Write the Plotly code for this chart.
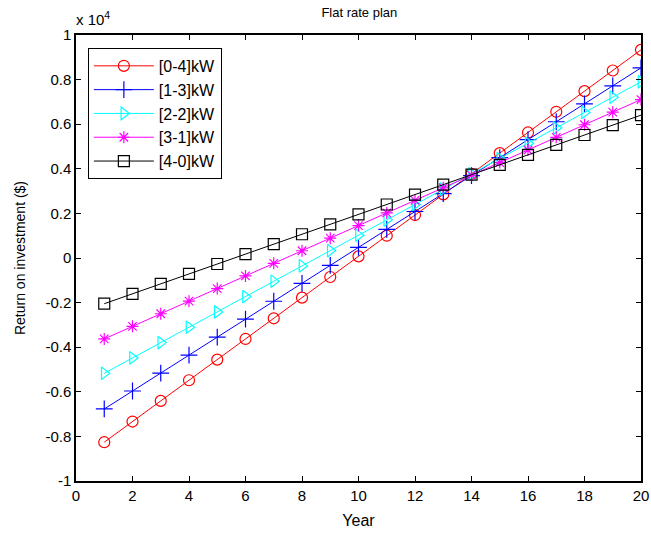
import plotly.graph_objects as go

# Return on investment ($) per year for each PV-battery split
years = list(range(1, 21))
roi_0_4 = [-8260, -7334, -6408, -5482, -4556, -3630, -2704, -1778, -852, 74,
           1000, 1926, 2852, 3778, 4704, 5630, 6556, 7482, 8408, 9334]
roi_1_3 = [-6770, -5965, -5160, -4355, -3550, -2745, -1940, -1135, -330, 475,
           1280, 2085, 2890, 3695, 4500, 5305, 6110, 6915, 7720, 8525]
roi_2_2 = [-5170, -4482, -3794, -3106, -2418, -1730, -1042, -354, 334, 1022,
           1710, 2398, 3086, 3774, 4462, 5150, 5838, 6526, 7214, 7902]
roi_3_1 = [-3630, -3065, -2500, -1935, -1370, -805, -240, 325, 890, 1455,
           2020, 2585, 3150, 3715, 4280, 4845, 5410, 5975, 6540, 7105]
roi_4_0 = [-2050, -1605, -1160, -715, -270, 175, 620, 1065, 1510, 1955,
           2400, 2845, 3290, 3735, 4180, 4625, 5070, 5515, 5960, 6405]

series_names = ["[0-4]kW", "[1-3]kW", "[2-2]kW", "[3-1]kW", "[4-0]kW"]
x_ticks = list(range(0, 21, 2))
y_ticks = [-1, -0.8, -0.6, -0.4, -0.2, 0, 0.2, 0.4, 0.6, 0.8, 1]
y_tick_text = ["-1", "-0.8", "-0.6", "-0.4", "-0.2", "0", "0.2", "0.4", "0.6", "0.8", "1"]
scale = 1e4

styles = [
    ("#ff0000", "circle-open", 11),
    ("#0000ff", "cross-thin-open", 12),
    ("#00ffff", "triangle-right-open", 11),
    ("#ff00ff", "asterisk-open", 10),
    ("#000000", "square-open", 11),
]

fig = go.Figure()
for name, vals, (color, sym, size) in zip(series_names,
                                          [roi_0_4, roi_1_3, roi_2_2, roi_3_1, roi_4_0],
                                          styles):
    fig.add_trace(go.Scatter(
        x=years, y=[v / scale for v in vals], name=name, mode="lines+markers",
        line=dict(color=color, width=1),
        marker=dict(symbol=sym, size=size, color=color, line=dict(color=color, width=1.2)),
    ))

font = "Liberation Sans, Arial, sans-serif"
axis_common = dict(
    showline=True, linecolor="black", linewidth=1.5, mirror="ticks",
    ticks="inside", ticklen=5, tickwidth=1, tickcolor="black",
    showgrid=False, zeroline=False, automargin=False,
    tickfont=dict(family=font, size=15, color="black"),
)

fig.update_layout(
    width=651, height=533,
    margin=dict(l=76, r=10, t=35, b=52),
    paper_bgcolor="white", plot_bgcolor="white",
    title=dict(text="Flat rate plan", x=0.552, xanchor="center", y=0.986, yanchor="top",
               font=dict(family=font, size=13, color="black")),
    xaxis=dict(range=[0, 20], tickvals=x_ticks,
               title=dict(text="Year", font=dict(family=font, size=16, color="black"), standoff=12),
               **axis_common),
    yaxis=dict(range=[-1, 1], tickvals=y_ticks, ticktext=y_tick_text,
               title=dict(text="Return on investment ($)", font=dict(family=font, size=14, color="black"),
                          standoff=16),
               **axis_common),
    legend=dict(x=0.021, y=0.971, xanchor="left", yanchor="top",
                bgcolor="white", bordercolor="black", borderwidth=1,
                font=dict(family=font, size=16, color="black"),
                tracegroupgap=0, itemwidth=60),
    showlegend=True,
)

fig.add_annotation(text="x 10<sup>4</sup>", xref="paper", yref="paper",
                   x=-0.004, y=1.011, xanchor="left", yanchor="bottom", showarrow=False,
                   font=dict(family=font, size=15, color="black"))

fig.write_html("out.html")
